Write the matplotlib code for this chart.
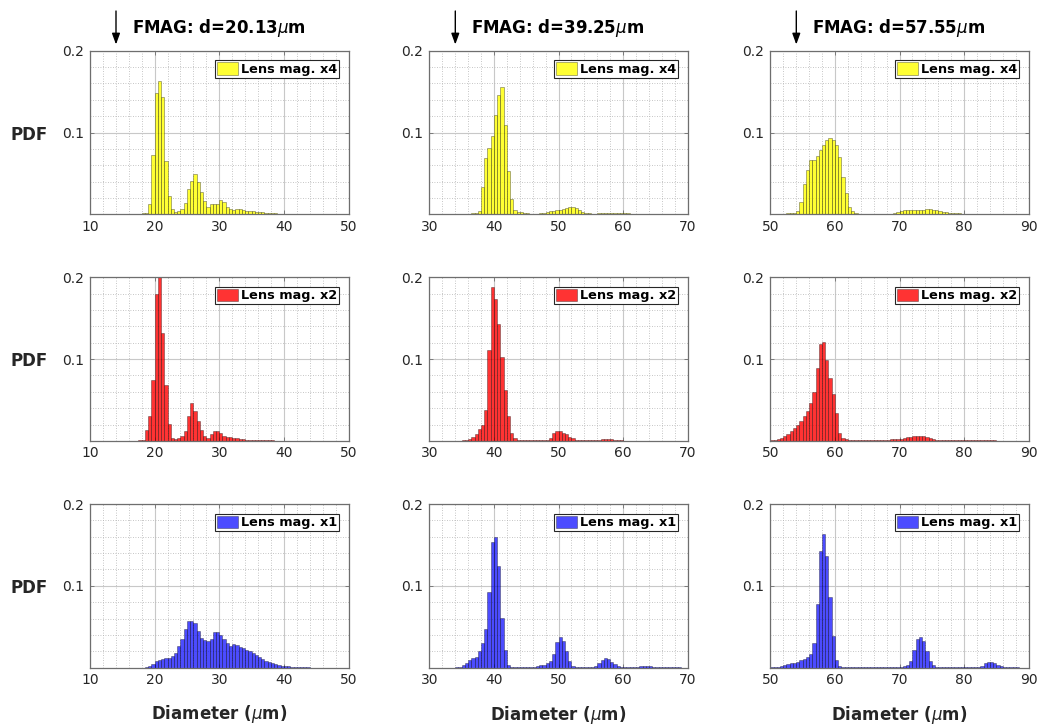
import numpy as np
import matplotlib
matplotlib.use("Agg")
import matplotlib.pyplot as plt
from matplotlib.ticker import MultipleLocator, FixedLocator

plt.rcParams['font.family'] = ['DejaVu Sans']
plt.rcParams['mathtext.fontset'] = 'dejavusans'

# ---------------------------------------------------------------- data
BIN_WIDTH = 0.5                       # um, all histograms share this bin width
fmag_diameters = [20.13, 39.25, 57.55]
x_limits = [(10, 50), (30, 70), (50, 90)]
x_ticks = [[10, 20, 30, 40, 50], [30, 40, 50, 60, 70], [50, 60, 70, 80, 90]]
y_ticks = [0.1, 0.2]
magnifications = ['x4', 'x2', 'x1']

# d = 20.13 um
d20_x4_start = 17.5
d20_x4_pdf = [0.0008, 0.001, 0.002, 0.013, 0.073, 0.148, 0.163, 0.143, 0.065, 0.022,
              0.006, 0.0025, 0.0045, 0.006, 0.014, 0.031, 0.041, 0.049, 0.039, 0.027,
              0.016, 0.009, 0.012, 0.013, 0.013, 0.017, 0.015, 0.009, 0.0065, 0.005,
              0.006, 0.007, 0.005, 0.0045, 0.004, 0.0037, 0.003, 0.003, 0.0025, 0.0015,
              0.001, 0.001, 0.001, 0.0008, 0.0008, 0.0008, 0.0006, 0.0005, 0.0005, 0.0004,
              0.0, 0.0, 0.0, 0.0, 0.0, 0.0, 0.0, 0.0, 0.0, 0.0, 0.0004]
d20_x2_start = 17.5
d20_x2_pdf = [0.0005, 0.001, 0.013, 0.031, 0.075, 0.18, 0.205, 0.132, 0.068, 0.021,
              0.004, 0.0025, 0.004, 0.006, 0.012, 0.031, 0.046, 0.037, 0.024, 0.0135,
              0.0055, 0.004, 0.0085, 0.0125, 0.0125, 0.0095, 0.0065, 0.005, 0.0045, 0.0037,
              0.0033, 0.0025, 0.002, 0.0015, 0.0015, 0.0012, 0.001, 0.0008, 0.0008, 0.0006,
              0.0006, 0.0005, 0.0004, 0.0004]
d20_x1_start = 18.5
d20_x1_pdf = [0.0005, 0.002, 0.0045, 0.008, 0.0098, 0.010, 0.0115, 0.012, 0.014, 0.018,
              0.027, 0.035, 0.047, 0.057, 0.0567, 0.055, 0.045, 0.036, 0.034, 0.033,
              0.0355, 0.043, 0.043, 0.0395, 0.035, 0.0306, 0.027, 0.0285, 0.028, 0.0257,
              0.024, 0.022, 0.020, 0.0175, 0.015, 0.013, 0.010, 0.0078, 0.0065, 0.0053,
              0.004, 0.003, 0.0025, 0.002, 0.0016, 0.0012, 0.0008, 0.0005, 0.0005, 0.0005,
              0.0004]

# d = 39.25 um
d39_x4_start = 34.0
d39_x4_pdf = [0.0004, 0.0004, 0.0005, 0.0006, 0.0008, 0.001, 0.0015, 0.004, 0.0335, 0.069,
              0.0815, 0.096, 0.122, 0.146, 0.156, 0.109, 0.053, 0.019, 0.005, 0.0033,
              0.003, 0.002, 0.0012, 0.0008, 0.0008, 0.0008, 0.001, 0.002, 0.003, 0.0037,
              0.0037, 0.005, 0.0053, 0.0065, 0.008, 0.009, 0.0094, 0.008, 0.005, 0.003,
              0.0016, 0.001, 0.0008, 0.0008, 0.001, 0.0012, 0.0015, 0.0012, 0.001, 0.0012,
              0.0015, 0.0012, 0.001, 0.0012, 0.0008, 0.0006, 0.0004, 0.0004, 0.0004, 0.0004,
              0.0004, 0.0004, 0.0004, 0.0004, 0.0004, 0.0004, 0.0004, 0.0004]
d39_x2_start = 35.0
d39_x2_pdf = [0.0005, 0.001, 0.0025, 0.005, 0.0085, 0.014, 0.020, 0.0378, 0.111, 0.1886,
              0.1735, 0.1426, 0.102, 0.0623, 0.030, 0.010, 0.003, 0.0012, 0.0006, 0.0005,
              0.0005, 0.0005, 0.0006, 0.0008, 0.001, 0.001, 0.0012, 0.003, 0.0094, 0.012,
              0.0118, 0.010, 0.008, 0.0053, 0.003, 0.0016, 0.001, 0.001, 0.0008, 0.0008,
              0.001, 0.0012, 0.0015, 0.0018, 0.002, 0.002, 0.0018, 0.0015, 0.001, 0.0008,
              0.0003, 0.0003, 0.0003, 0.0003, 0.0003]
d39_x1_start = 34.0
d39_x1_pdf = [0.0005, 0.001, 0.003, 0.0057, 0.009, 0.0122, 0.0135, 0.020, 0.030, 0.047,
              0.092, 0.153, 0.160, 0.124, 0.061, 0.021, 0.003, 0.0005, 0.0004, 0.0004,
              0.0004, 0.0005, 0.0008, 0.001, 0.0012, 0.0017, 0.0033, 0.0037, 0.0057, 0.008,
              0.0167, 0.031, 0.037, 0.032, 0.0204, 0.0086, 0.0024, 0.0008, 0.0005, 0.0005,
              0.0005, 0.0005, 0.0008, 0.002, 0.0057, 0.0094, 0.0114, 0.0106, 0.0073, 0.004,
              0.002, 0.001, 0.0005, 0.0005, 0.0005, 0.0008, 0.0012, 0.0018, 0.0024, 0.0022,
              0.0015, 0.001, 0.0006, 0.0004, 0.0004, 0.0004, 0.0004, 0.0004, 0.0004, 0.0004]

# d = 57.55 um
d57_x4_start = 50.5
d57_x4_pdf = [0.0005, 0.0005, 0.0008, 0.0008, 0.001, 0.001, 0.0016, 0.0045, 0.015, 0.0367,
              0.0547, 0.066, 0.066, 0.071, 0.078, 0.0845, 0.0906, 0.0927, 0.0906, 0.0845,
              0.070, 0.0457, 0.026, 0.009, 0.004, 0.0016, 0.0008, 0.0008, 0.0006, 0.0004,
              0.0004, 0.0004, 0.0004, 0.0004, 0.0004, 0.0008, 0.0008, 0.0016, 0.003, 0.004,
              0.005, 0.005, 0.005, 0.005, 0.005, 0.0057, 0.0057, 0.0065, 0.006, 0.0057,
              0.005, 0.004, 0.0033, 0.0024, 0.0016, 0.001, 0.001, 0.001, 0.0008, 0.0005,
              0.0005, 0.0005, 0.0005, 0.0005, 0.0005, 0.0005, 0.0005, 0.0005, 0.0005, 0.0005,
              0.0005, 0.0005, 0.0005, 0.0005, 0.0005, 0.0005, 0.0005]
d57_x2_start = 50.0
d57_x2_pdf = [0.0005, 0.0012, 0.0025, 0.004, 0.0057, 0.0085, 0.0118, 0.0155, 0.0196, 0.024,
              0.0305, 0.037, 0.0468, 0.0597, 0.0888, 0.118, 0.1206, 0.0993, 0.0766, 0.057,
              0.034, 0.010, 0.0033, 0.002, 0.001, 0.001, 0.0006, 0.0006, 0.0006, 0.0006,
              0.0006, 0.0006, 0.0006, 0.0006, 0.001, 0.001, 0.0015, 0.002, 0.0028, 0.0028,
              0.0025, 0.0033, 0.0045, 0.0053, 0.006, 0.0065, 0.006, 0.0057, 0.0053, 0.004,
              0.0025, 0.0016, 0.0008, 0.0008, 0.0008, 0.0008, 0.0008, 0.0008, 0.0008, 0.0008,
              0.0008, 0.0008, 0.0008, 0.0008, 0.0008, 0.0008, 0.0008, 0.0008, 0.0008, 0.0008,
              0.0004, 0.0004, 0.0004, 0.0004, 0.0004, 0.0004, 0.0004, 0.0004]
d57_x1_start = 50.0
d57_x1_pdf = [0.0005, 0.001, 0.0012, 0.002, 0.003, 0.004, 0.0053, 0.006, 0.0073, 0.009,
              0.011, 0.0135, 0.0167, 0.030, 0.0776, 0.143, 0.163, 0.136, 0.0857, 0.0388,
              0.0094, 0.002, 0.0008, 0.0003, 0.0003, 0.0003, 0.0003, 0.0003, 0.0003, 0.0003,
              0.0003, 0.0003, 0.0005, 0.0005, 0.0005, 0.0005, 0.0005, 0.0005, 0.0008, 0.001,
              0.001, 0.002, 0.003, 0.0078, 0.0216, 0.0347, 0.037, 0.032, 0.020, 0.0086,
              0.003, 0.0008, 0.0004, 0.0004, 0.0004, 0.0004, 0.0004, 0.0004, 0.0004, 0.0004,
              0.0004, 0.0004, 0.0006, 0.0008, 0.0012, 0.0025, 0.0057, 0.0073, 0.0073, 0.0057,
              0.0033, 0.0016, 0.0006, 0.0003, 0.0003, 0.0003, 0.0003]

# rows: lens magnification, columns: FMAG diameter
starts = [[d20_x4_start, d39_x4_start, d57_x4_start],
          [d20_x2_start, d39_x2_start, d57_x2_start],
          [d20_x1_start, d39_x1_start, d57_x1_start]]
pdfs = [[d20_x4_pdf, d39_x4_pdf, d57_x4_pdf],
        [d20_x2_pdf, d39_x2_pdf, d57_x2_pdf],
        [d20_x1_pdf, d39_x1_pdf, d57_x1_pdf]]

# ---------------------------------------------------------------- styling
face_colors = [(1.0, 1.0, 0.0, 0.8), (1.0, 0.0, 0.0, 0.8), (0.0, 0.0, 1.0, 0.7)]
edge_color = (0.0, 0.0, 0.0, 0.45)
text_color = '#262626'
spine_color = '#6e6e6e'

W, H = 1040, 725
fig = plt.figure(figsize=(W / 100, H / 100), dpi=100)

col_left = [90.0, 429.3, 770.3]
col_width = 258.5
row_top = [50.7, 277.3, 504.0]
row_height = 163.6


def fig_xy(x_px, y_px):
    return x_px / W, 1 - y_px / H


for r in range(3):
    for c in range(3):
        x0, y1 = fig_xy(col_left[c], row_top[r] + row_height)
        ax = fig.add_axes([x0, y1, col_width / W, row_height / H])
        ax.set_axisbelow(True)

        pdf = np.asarray(pdfs[r][c])
        edges = starts[r][c] + np.arange(len(pdf)) * BIN_WIDTH
        ax.bar(edges, pdf, width=BIN_WIDTH, align='edge',
               facecolor=face_colors[r], edgecolor=edge_color, linewidth=0.5,
               label=f'Lens mag. {magnifications[r]}')

        ax.set_xlim(*x_limits[c])
        ax.set_ylim(0, 0.2)
        ax.xaxis.set_major_locator(FixedLocator(x_ticks[c]))
        ax.yaxis.set_major_locator(FixedLocator(y_ticks))
        ax.set_yticklabels([f'{v:g}' for v in y_ticks])
        ax.xaxis.set_minor_locator(MultipleLocator(2))
        ax.yaxis.set_minor_locator(MultipleLocator(0.02))

        ax.grid(which='major', color='#c8c8c8', linewidth=0.8, linestyle='-')
        ax.grid(which='minor', color='#b3b3b3', linewidth=0.6, linestyle=(0, (1, 2)))

        ax.tick_params(which='major', direction='in', length=3, width=0.6,
                       color=spine_color, top=True, right=True,
                       labelsize=10, labelcolor=text_color)
        ax.tick_params(axis='x', which='major', pad=4)
        ax.tick_params(axis='y', which='major', pad=4.5)
        ax.tick_params(which='minor', length=0)
        for sp in ax.spines.values():
            sp.set_color(spine_color)
            sp.set_linewidth(0.9)

        leg = ax.legend(loc='upper right', prop=dict(weight='bold', size=9.3),
                        frameon=True, fancybox=False, framealpha=1,
                        edgecolor=text_color, borderpad=0.15, handlelength=1.65,
                        handleheight=1.08, handletextpad=0.2, borderaxespad=0.75)
        leg.get_frame().set_linewidth(0.8)

        if c == 0:
            fx, fy = fig_xy(29, row_top[r] + 89)
            fig.text(fx, fy, 'PDF', ha='center', va='baseline',
                     fontsize=12, fontweight='bold', color=text_color)

# column headers with downward arrows
for c in range(3):
    fx, fy = fig_xy(col_left[c] + 41.5, 32.7)
    fig.text(fx, fy, f'FMAG: d={fmag_diameters[c]:.2f}$\\mu$m', ha='left',
             va='baseline', fontsize=12, fontweight='bold', color='black')
    ax_x = col_left[c] + 26
    fig.add_artist(matplotlib.patches.FancyArrowPatch(
        posA=fig_xy(ax_x, 11), posB=fig_xy(ax_x, 44.5),
        transform=fig.transFigure, arrowstyle='-|>,head_length=0.55,head_width=0.2',
        mutation_scale=12, color='black', linewidth=1.0,
        shrinkA=0, shrinkB=0))

# x axis titles under the bottom row
for c, base in zip(range(3), [719.0, 720.5, 720.5]):
    fx, fy = fig_xy(col_left[c] + col_width / 2, base)
    fig.text(fx, fy, 'Diameter ($\\mu$m)', ha='center', va='baseline',
             fontsize=12, fontweight='bold', color=text_color)

fig.savefig('out.png', dpi=100, facecolor='white')
